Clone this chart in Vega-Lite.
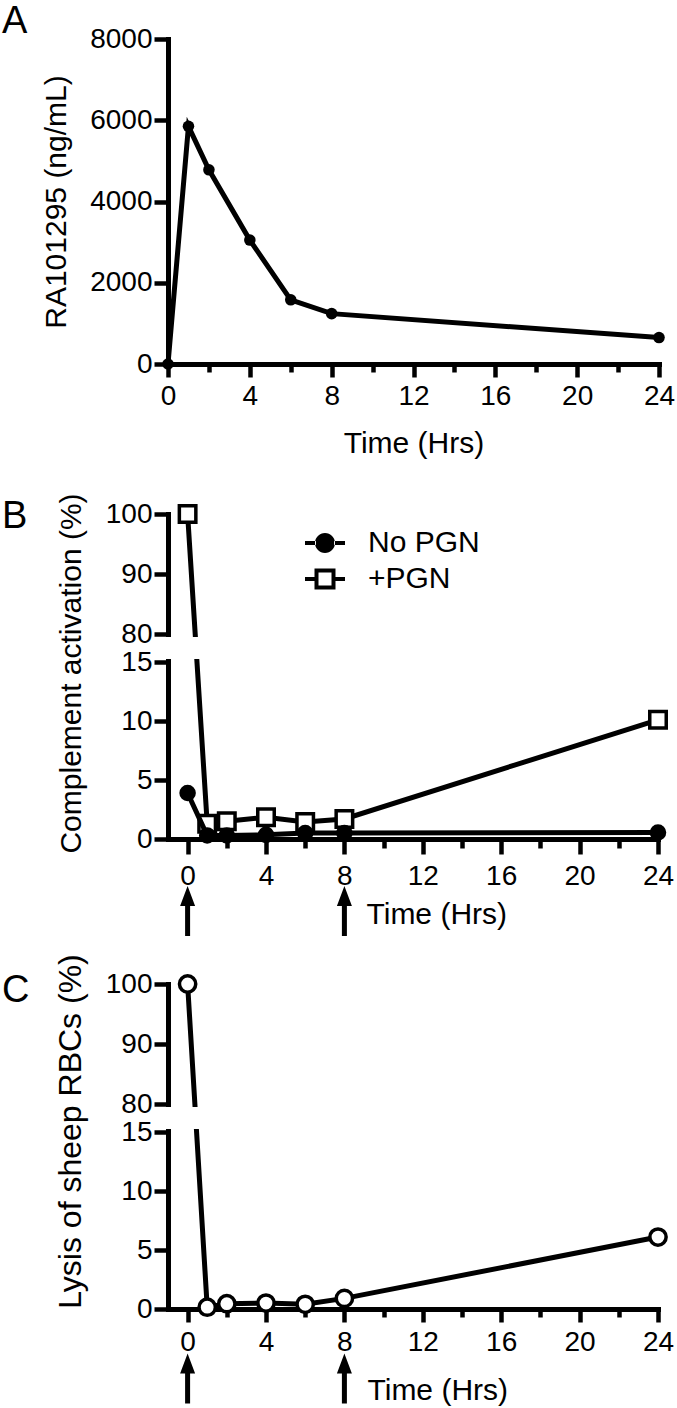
{
  "$schema": "https://vega.github.io/schema/vega-lite/v6.json",
  "background": "white",
  "padding": {"left": 2, "top": 3, "right": 5, "bottom": 2},
  "bounds": "flush",
  "spacing": 150,
  "resolve": {"scale": {"shape": "independent"}, "legend": {"shape": "independent"}},
  "config": {
    "view": {"stroke": null},
    "font": "Liberation Sans",
    "axis": {
      "domainColor": "black", "domainWidth": 5, "domainCap": "square",
      "tickColor": "black", "tickWidth": 4.5,
      "labelColor": "black", "labelFontSize": 28, "labelFont": "Liberation Sans",
      "titleFont": "Liberation Sans", "titleFontSize": 30, "titleFontWeight": "normal", "titleColor": "black",
      "grid": false, "labelFlush": false, "labelOverlap": false
    },
    "legend": {
      "title": null, "orient": "none", "legendX": 142, "legendY": 14, "padding": 0,
      "labelFontSize": 30, "labelFont": "Liberation Sans", "labelColor": "black", "labelOffset": 28,
      "symbolSize": 400, "rowPadding": 6
    },
    "title": {"fontSize": 38, "fontWeight": "normal", "font": "Liberation Sans", "color": "black", "anchor": "start", "frame": "group", "offset": 0}
  },
  "vconcat": [
    {
      "width": 491, "height": 325,
      "title": {"text": "A", "dx": -166, "dy": 20},
      "data": {"values": [
        {"t": 0, "conc": 0}, {"t": 1, "conc": 5850}, {"t": 2, "conc": 4780},
        {"t": 4, "conc": 3050}, {"t": 6, "conc": 1580}, {"t": 8, "conc": 1240}, {"t": 24, "conc": 650}
      ]},
      "encoding": {
        "x": {"field": "t", "type": "quantitative", "scale": {"domain": [0, 24], "nice": false},
          "axis": {"values": [0,2,4,6,8,10,12,14,16,18,20,22,24],
            "labelExpr": "datum.value % 4 === 0 ? datum.label : ''",
            "tickSize": {"condition": {"test": "datum.value % 4 === 0", "value": 13}, "value": 8},
            "labelPadding": 5, "title": "Time (Hrs)", "titlePadding": 18}},
        "y": {"field": "conc", "type": "quantitative", "scale": {"domain": [0, 8000], "nice": false},
          "axis": {"values": [0, 2000, 4000, 6000, 8000], "format": "d", "tickSize": 14, "labelPadding": 2,
            "title": "RA101295 (ng/mL)", "titlePadding": 18}}
      },
      "layer": [
        {"mark": {"type": "line", "color": "black", "strokeWidth": 5}},
        {"mark": {"type": "point", "filled": true, "color": "black", "size": 133, "opacity": 1}}
      ]
    },
    {
      "bounds": "flush",
      "spacing": 145,
      "resolve": {"scale": {"shape": "independent"}, "legend": {"shape": "independent"}},
      "vconcat": [
        {
          "width": 490, "height": 325,
          "title": {"text": "B", "dx": -166, "dy": 47},
          "layer": [
            {
              "data": {"values": [
                {"series": "+PGN", "t": 0, "v": 100}, {"series": "+PGN", "t": 1, "v": 1.3},
                {"series": "+PGN", "t": 2, "v": 1.5}, {"series": "+PGN", "t": 4, "v": 1.85},
                {"series": "+PGN", "t": 6, "v": 1.45}, {"series": "+PGN", "t": 8, "v": 1.7},
                {"series": "+PGN", "t": 24, "v": 10.1},
                {"series": "No PGN", "t": 0, "v": 3.9}, {"series": "No PGN", "t": 1, "v": 0.3},
                {"series": "No PGN", "t": 2, "v": 0.3}, {"series": "No PGN", "t": 4, "v": 0.35},
                {"series": "No PGN", "t": 6, "v": 0.5}, {"series": "No PGN", "t": 8, "v": 0.5},
                {"series": "No PGN", "t": 24, "v": 0.55}
              ]},
              "encoding": {
                "x": {"field": "t", "type": "quantitative", "scale": {"domain": [-1, 24], "nice": false, "zero": false},
                  "axis": {"values": [0,2,4,6,8,10,12,14,16,18,20,22,24],
                    "labelExpr": "datum.value % 4 === 0 ? datum.label : ''",
                    "tickSize": {"condition": {"test": "datum.value % 4 === 0", "value": 15}, "value": 9},
                    "labelPadding": 8, "title": "Time (Hrs)",
                    "titleX": 198, "titleY": 84, "titleAlign": "left", "titleBaseline": "alphabetic"}},
                "y": {"field": "v", "type": "quantitative",
                  "scale": {"domain": [0, 15, 80, 100], "range": [325, 148, 120, 0], "nice": false, "zero": false},
                  "axis": {"values": [0, 5, 10, 15, 80, 90, 100], "tickSize": 14, "labelPadding": 2,
                    "title": "Complement activation (%)", "titlePadding": 19, "titleY": 159}}
              },
              "layer": [
                {"transform": [{"filter": "datum.series === '+PGN'"}],
                  "mark": {"type": "line", "color": "black", "strokeWidth": 5}},
                {"transform": [{"filter": "datum.series === '+PGN'"}],
                  "mark": {"type": "point", "shape": "square", "filled": true, "fill": "white", "stroke": "black", "strokeWidth": 3.5, "size": 272, "opacity": 1}},
                {"transform": [{"filter": "datum.series === 'No PGN'"}],
                  "mark": {"type": "line", "color": "black", "strokeWidth": 5}},
                {"transform": [{"filter": "datum.series === 'No PGN'"}],
                  "mark": {"type": "point", "shape": "circle", "filled": true, "fill": "black", "stroke": "black", "strokeWidth": 3.5, "size": 170, "opacity": 1}},
                {"transform": [{"filter": "datum.t < -100"}],
                  "mark": {"type": "point", "filled": true, "color": "black", "opacity": 1},
                  "encoding": {
                    "shape": {"field": "series", "type": "nominal",
                      "scale": {"domain": ["No PGN", "+PGN"],
                        "range": ["M-2,-0.2H-0.9V0.2H-2Z M0.9,-0.2H2V0.2H0.9Z M-1,0A1,1,0,1,0,1,0A1,1,0,1,0,-1,0Z",
                                  "M-2,-0.2H-1V0.2H-2Z M1,-0.2H2V0.2H1Z M-1.05,-1.05H1.05V1.05H-1.05Z M-0.65,-0.65V0.65H0.65V-0.65Z"]},
                      "legend": {"title": null}}
                  }}
              ]
            },
            {
              "data": {"values": [{"gap": "break"}]},
              "mark": {"type": "rect", "color": "white"},
              "encoding": {
                "x": {"datum": -1.3, "type": "quantitative", "scale": {"domain": [-1, 24], "nice": false, "zero": false}},
                "x2": {"datum": 24},
                "y": {"datum": 73, "type": "quantitative", "scale": {"domain": [0, 15, 80, 100], "range": [325, 148, 120, 0], "nice": false, "zero": false}, "axis": null},
                "y2": {"datum": 22}
              }
            },
            {
              "data": {"values": [{"t": 0}, {"t": 8}]},
              "mark": {"type": "point", "shape": "M0,-1L0.3,-0.2L0.1,-0.2L0.1,1L-0.1,1L-0.1,-0.2L-0.3,-0.2Z", "filled": true, "color": "black", "size": 2500, "opacity": 1},
              "encoding": {
                "x": {"field": "t", "type": "quantitative", "scale": {"domain": [-1, 24], "nice": false, "zero": false}},
                "y": {"datum": 0.5, "scale": {"domain": [0, 1], "range": [422, 372]}, "axis": null}
              }
            }
          ],
          "resolve": {"scale": {"y": "independent"}}
        },
        {
          "width": 490, "height": 325,
          "title": {"text": "C", "dx": -166, "dy": 60},
          "layer": [
            {
              "data": {"values": [
                {"t": 0, "v": 100}, {"t": 1, "v": 0.15}, {"t": 2, "v": 0.45}, {"t": 4, "v": 0.5},
                {"t": 6, "v": 0.4}, {"t": 8, "v": 0.9}, {"t": 24, "v": 6.1}
              ]},
              "encoding": {
                "x": {"field": "t", "type": "quantitative", "scale": {"domain": [-1, 24], "nice": false, "zero": false},
                  "axis": {"values": [0,2,4,6,8,10,12,14,16,18,20,22,24],
                    "labelExpr": "datum.value % 4 === 0 ? datum.label : ''",
                    "tickSize": {"condition": {"test": "datum.value % 4 === 0", "value": 13}, "value": 8},
                    "labelPadding": 6, "title": "Time (Hrs)",
                    "titleX": 199, "titleY": 90, "titleAlign": "left", "titleBaseline": "alphabetic"}},
                "y": {"field": "v", "type": "quantitative",
                  "scale": {"domain": [0, 15, 80, 100], "range": [325, 148, 120, 0], "nice": false, "zero": false},
                  "axis": {"values": [0, 5, 10, 15, 80, 90, 100], "tickSize": 14, "labelPadding": 2,
                    "title": "Lysis of sheep RBCs (%)", "titleFontSize": 32, "titlePadding": 18, "titleY": 147}}
              },
              "layer": [
                {"mark": {"type": "line", "color": "black", "strokeWidth": 5}},
                {"mark": {"type": "point", "filled": true, "fill": "white", "stroke": "black", "strokeWidth": 3.5, "size": 265, "opacity": 1}}
              ]
            },
            {
              "data": {"values": [{"gap": "break"}]},
              "mark": {"type": "rect", "color": "white"},
              "encoding": {
                "x": {"datum": -1.3, "type": "quantitative", "scale": {"domain": [-1, 24], "nice": false, "zero": false}},
                "x2": {"datum": 24},
                "y": {"datum": 73, "type": "quantitative", "scale": {"domain": [0, 15, 80, 100], "range": [325, 148, 120, 0], "nice": false, "zero": false}, "axis": null},
                "y2": {"datum": 22}
              }
            },
            {
              "data": {"values": [{"t": 0}, {"t": 8}]},
              "mark": {"type": "point", "shape": "M0,-1L0.3,-0.2L0.1,-0.2L0.1,1L-0.1,1L-0.1,-0.2L-0.3,-0.2Z", "filled": true, "color": "black", "size": 2500, "opacity": 1},
              "encoding": {
                "x": {"field": "t", "type": "quantitative", "scale": {"domain": [-1, 24], "nice": false, "zero": false}},
                "y": {"datum": 0.5, "scale": {"domain": [0, 1], "range": [418, 371]}, "axis": null}
              }
            }
          ],
          "resolve": {"scale": {"y": "independent"}}
        }
      ]
    }
  ]
}
